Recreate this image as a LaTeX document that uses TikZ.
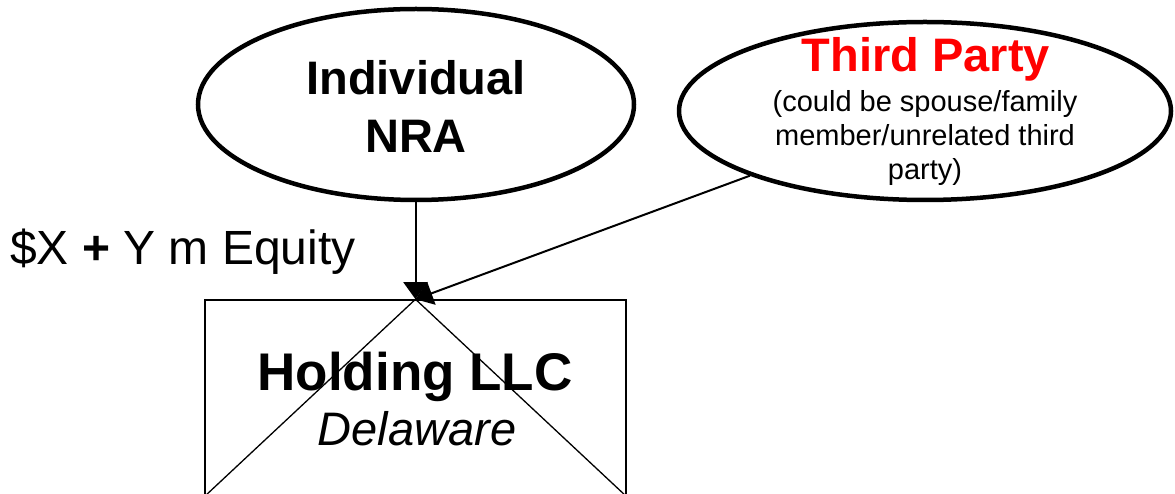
\documentclass[tikz,border=0pt]{standalone}
\usepackage{fontspec}
\setmainfont{Liberation Sans}
\usetikzlibrary{shapes.geometric,arrows.meta}
\definecolor{tpred}{RGB}{255,0,0}
\tikzset{
  oval/.style={draw=black,ellipse,line width=4.5pt,inner sep=0pt},
  bigb/.style={font=\fontsize{47}{56}\selectfont\bfseries,anchor=base,inner sep=0pt},
  smallt/.style={font=\fontsize{29}{34}\selectfont,anchor=base,inner sep=0pt},
  conn/.style={line width=2pt,-{Triangle[length=17pt,width=24pt]}},
}
\begin{document}
\begin{tikzpicture}[x=1pt,y=1pt]
\useasboundingbox (0,0) rectangle (1175,493);
\clip (0,0) rectangle (1175,493);
% nodes
\node[oval,minimum width=436pt,minimum height=191pt] (ind) at (416,388.5) {};
\node[bigb] (indA) at (416,398) {Individual};
\node[bigb] (indB) at (416,340) {NRA};

\node[oval,minimum width=492pt,minimum height=178pt] (tp) at (925,382) {};
\node[bigb,text=tpred] (tpA) at (926,421) {Third Party};
\node[smallt] (tpB) at (925,381) {(could be spouse/family};
\node[smallt] (tpC) at (925,347) {member/unrelated third};
\node[smallt] (tpD) at (925,313) {party)};

\node[draw=black,line width=1.5pt,rectangle,minimum width=421pt,minimum height=196pt,inner sep=0pt] (hold) at (415.5,95) {};
\node[font=\fontsize{53}{60}\selectfont\bfseries,anchor=base,inner sep=0pt] (holdA) at (415,103) {Holding LLC};
\node[font=\fontsize{47}{56}\selectfont\itshape,anchor=base,inner sep=0pt] (holdB) at (417,48) {Delaware};

\node[font=\fontsize{48}{56}\selectfont,anchor=base west,inner sep=0pt] (eq) at (10,228) {\$X {\bfseries +} Y m Equity};

% connectors
\draw[line width=1.3pt] (hold.north) -- (hold.south west);
\draw[line width=1.3pt] (hold.north) -- (hold.south east);
\draw[conn] (ind.south -| hold.north) -- (hold.north);
\draw[conn] (tp) -- (hold.north);
\end{tikzpicture}
\end{document}
